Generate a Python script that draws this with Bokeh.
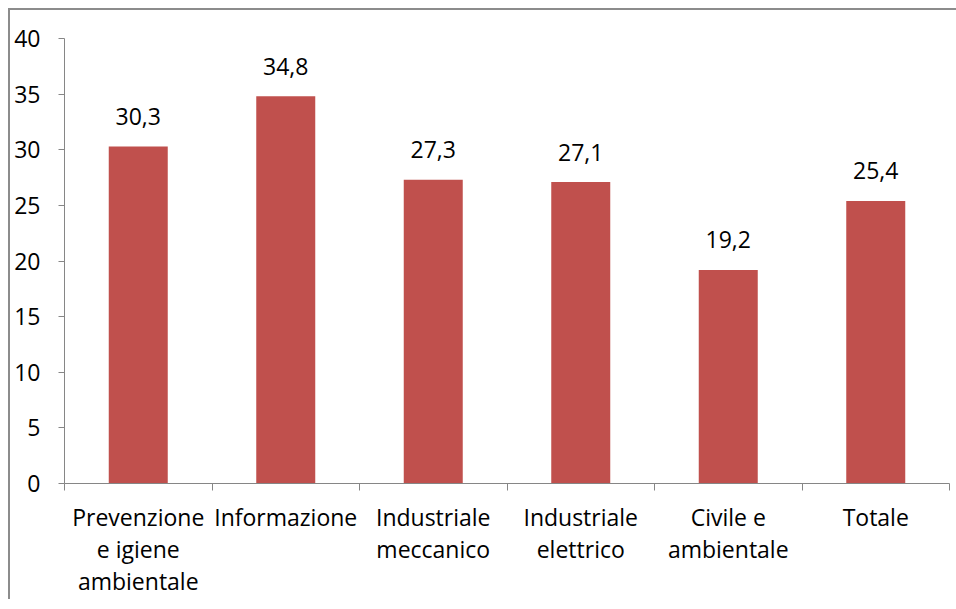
from bokeh.plotting import figure
from bokeh.models import FixedTicker, Range1d, ColumnDataSource
from bokeh.core.properties import value
from bokeh.embed import file_html
from bokeh.resources import INLINE

categories = ["Prevenzione\ne igiene\nambientale", "Informazione", "Industriale\nmeccanico",
              "Industriale\nelettrico", "Civile e\nambientale", "Totale"]
values = [30.3, 34.8, 27.3, 27.1, 19.2, 25.4]
y_ticks = [0, 5, 10, 15, 20, 25, 30, 35, 40]

FONT = "Open Sans"
GRAY = "#868686"
FS = "23px"

xs = [i + 0.5 for i in range(len(categories))]
labels = [f"{v:.1f}".replace(".", ",") for v in values]
src = ColumnDataSource(dict(x=xs, top=values, label=labels))

p = figure(frame_width=885, frame_height=445, output_backend="svg", toolbar_location=None,
           x_range=Range1d(0, len(categories)), y_range=Range1d(0, 40),
           min_border_left=54, min_border_right=7, min_border_top=28, min_border_bottom=116)
p.margin = (8, 0, 0, 8)
p.styles = {"border-left": "2px solid #8c8c8c", "border-top": "2px solid #8c8c8c"}
p.outline_line_color = None
p.xgrid.grid_line_color = None
p.ygrid.grid_line_color = None
p.background_fill_color = "white"
p.border_fill_color = "white"

p.vbar(x="x", top="top", bottom=0, width=0.4, source=src, fill_color="#C0504D", line_color=None)
p.text(x="x", y="top", text="label", source=src, text_align="center", text_baseline="alphabetic",
       y_offset=-30, text_font=value(FONT), text_font_size=FS, text_color="black")

# x axis
xa = p.xaxis[0]
xa.ticker = FixedTicker(ticks=xs, minor_ticks=list(range(len(categories) + 1)))
xa.major_label_overrides = {x: c for x, c in zip(xs, categories)}
xa.major_tick_line_color = None
xa.major_tick_out = 0
xa.major_tick_in = 0
xa.minor_tick_line_color = GRAY
xa.minor_tick_out = 7
xa.minor_tick_in = 0
xa.axis_line_color = GRAY
xa.major_label_text_font = FONT
xa.major_label_text_font_size = FS
xa.major_label_text_color = "black"
xa.major_label_text_line_height = 1.0
xa.major_label_standoff = 10

# y axis
ya = p.yaxis[0]
ya.ticker = FixedTicker(ticks=y_ticks)
ya.minor_tick_line_color = None
ya.major_tick_line_color = GRAY
ya.major_tick_out = 6
ya.major_tick_in = 0
ya.axis_line_color = GRAY
ya.major_label_text_font = FONT
ya.major_label_text_font_size = FS
ya.major_label_text_color = "black"
ya.major_label_standoff = 18

open("out.html", "w").write(file_html(p, INLINE))
